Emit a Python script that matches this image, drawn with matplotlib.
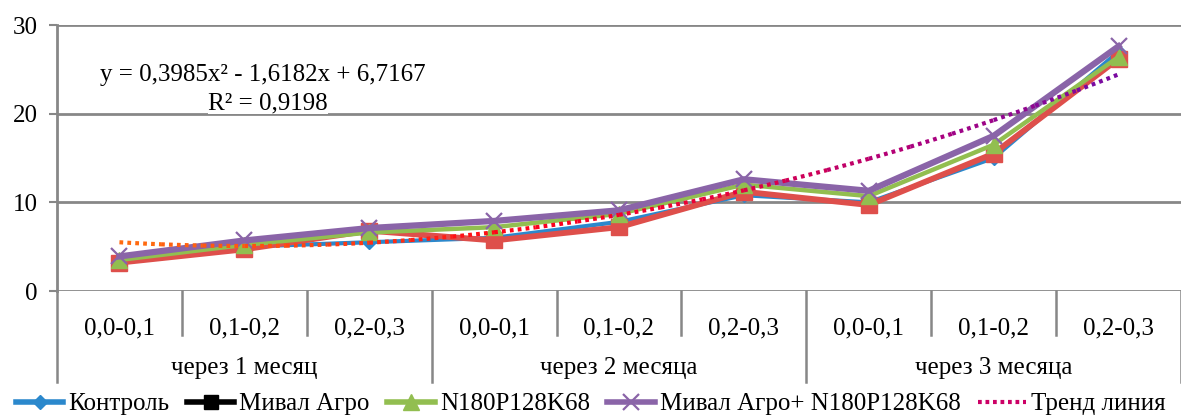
import numpy as np
import matplotlib
matplotlib.use('Agg')
import matplotlib.pyplot as plt
from matplotlib.lines import Line2D
from matplotlib.colors import LinearSegmentedColormap
import matplotlib.transforms as mtransforms

plt.rcParams['font.family'] = ['Liberation Serif', 'DejaVu Serif']

# data
depths = ['0,0-0,1', '0,1-0,2', '0,2-0,3'] * 3
periods = ['через 1 месяц', 'через 2 месяца', 'через 3 месяца']
kontrol = [3.3, 5.0, 5.5, 6.0, 7.8, 10.8, 10.0, 15.0, 27.0]
mival = [3.2, 4.7, 6.8, 5.7, 7.2, 11.2, 9.7, 15.5, 26.2]
npk = [3.5, 5.2, 6.6, 7.2, 8.7, 12.0, 10.7, 16.5, 26.4]
mival_npk = [3.9, 5.7, 7.1, 7.9, 9.1, 12.6, 11.3, 17.5, 27.6]
# trend equation printed on the chart
trend_coef = [0.3985, -1.6182, 6.7167]
trend_label = 'y = 0,3985x\u00b2 - 1,6182x + 6,7167'
r2_label = 'R\u00b2 = 0,9198'
series_names = ['Контроль', 'Мивал Агро', 'N180P128K68',
                'Мивал Агро+ N180P128K68', 'Тренд линия']

grey = '#878787'
fs = 18

fig = plt.figure(figsize=(11.81, 4.15), dpi=100)
ax = fig.add_axes([57 / 1181, 124 / 415, 1124 / 1181, 266 / 415])

x = np.arange(1, len(depths) + 1)

ax.plot(x, kontrol, color='#2B88CC', lw=3, marker='D', ms=7, zorder=3)
ax.plot(x, mival, color='#DE4F4B', lw=4.2, marker='s', ms=11, zorder=4)
ax.plot(x, npk, color='#92BE50', lw=3.2, marker='^', ms=12, zorder=5)
ax.plot(x, mival_npk, color='#8A64A8', lw=4.5, marker='x', ms=12, mew=1.6, zorder=6)

# gradient dotted trend line
cmap = LinearSegmentedColormap.from_list(
    'trend', ['#FF6A10', '#FF4010', '#FF0018', '#E8003A', '#B0007A', '#7A0AA0'])
edges = np.linspace(1, 9, 25)
for i in range(len(edges) - 1):
    xs = np.linspace(edges[i], edges[i + 1], 20)
    ax.plot(xs, np.polyval(trend_coef, xs), color=cmap(i / (len(edges) - 2)),
            lw=3, linestyle=(0, (0.9, 1.0)), dash_capstyle='butt', zorder=7)

ax.set_xlim(0.5, 9.5)
ax.set_ylim(0, 30)
ax.set_yticks([0, 10, 20, 30])
ax.grid(axis='y', color=grey, lw=2)
ax.set_axisbelow(True)
for s in ['top', 'right', 'bottom']:
    ax.spines[s].set_visible(False)
ax.spines['left'].set_color(grey)
ax.spines['left'].set_linewidth(2)
ax.tick_params(axis='y', length=6, width=1.5, color=grey, labelsize=fs, pad=8)
ax.set_xticks(x)
ax.set_xticklabels(depths, fontsize=fs)
ax.tick_params(axis='x', length=0, pad=19)

# category separators below the axis
trans = mtransforms.blended_transform_factory(ax.transData, ax.transAxes)
for b in np.arange(0.5, 10, 1):
    low = -0.342 if b in (0.5, 3.5, 6.5, 9.5) else -0.165
    ax.plot([b, b], [0, low], transform=trans, color=grey, lw=1.8, clip_on=False)
for i, p in enumerate(periods):
    ax.text(3 * i + 2, -0.29, p, transform=trans, ha='center', va='center', fontsize=fs)

ax.text(100 / 1181, 1 - 75 / 415, trend_label, transform=fig.transFigure, fontsize=fs,
        va='center', ha='left', bbox=dict(fc='white', ec='none', pad=0), zorder=8)
ax.text(268 / 1181, 1 - 103 / 415, r2_label, transform=fig.transFigure, fontsize=fs,
        va='center', ha='center', bbox=dict(fc='white', ec='none', pad=0), zorder=8)

handles = [
    Line2D([], [], color='#2B88CC', lw=4, marker='D', ms=7),
    Line2D([], [], color='black', lw=4, marker='s', ms=10),
    Line2D([], [], color='#92BE50', lw=4, marker='^', ms=11),
    Line2D([], [], color='#8A64A8', lw=4, marker='x', ms=11, mew=1.6),
    Line2D([], [], color='#CC0066', lw=3, linestyle=(0, (0.9, 0.9))),
]
fig.legend(handles, series_names, loc='center', bbox_to_anchor=(0.5, 11 / 415),
           ncol=5, frameon=False, fontsize=fs, handlelength=1.9,
           handletextpad=0.2, columnspacing=0.7, borderpad=0)

fig.savefig('out.png', dpi=100)
